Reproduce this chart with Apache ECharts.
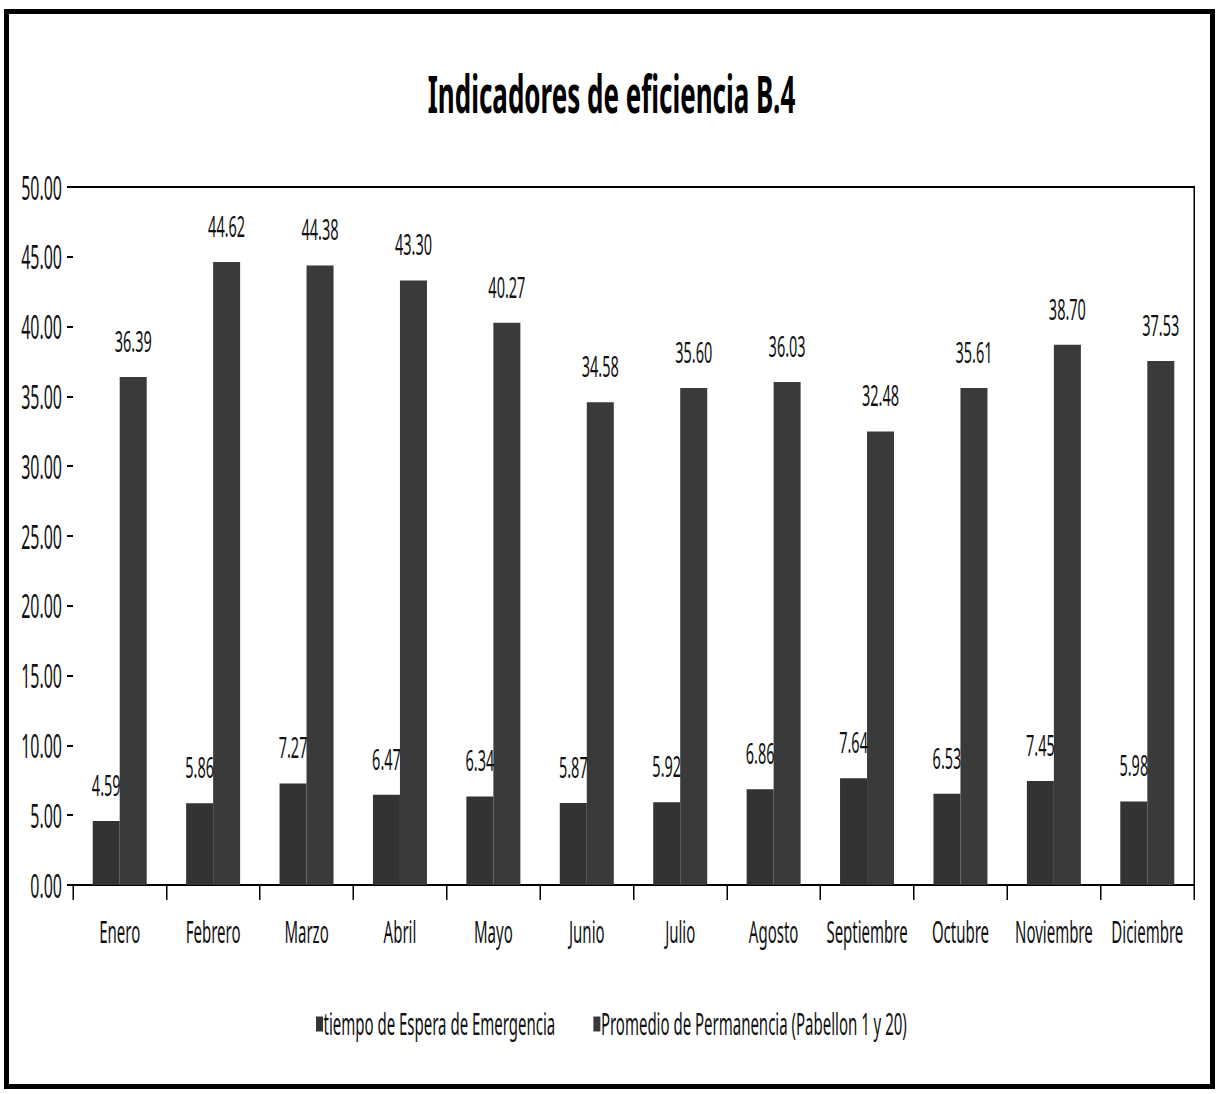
<!DOCTYPE html>
<html>
<head>
<meta charset="utf-8">
<title>Indicadores de eficiencia B.4</title>
<script src="https://cdn.jsdelivr.net/npm/echarts@6/dist/echarts.min.js"></script>
<style>
  html, body { margin: 0; padding: 0; background: #ffffff; overflow: hidden; width: 1223px; height: 1094px; }
  /* The chart is laid out twice as wide and squeezed horizontally,
     which gives the tall, condensed lettering of the original sheet. */
  #chart { position: absolute; left: 0; top: 0; width: 2446px; height: 1094px;
           transform-origin: 0 0; transform: scaleX(0.5); }
  #frame { position: absolute; left: 4px; top: 9px; width: 1201px; height: 1070px;
           border: 5px solid #000; pointer-events: none; }
</style>
</head>
<body>
<div id="chart"></div>
<div id="frame"></div>
<script>
// Meses del año
const categories = ['Enero', 'Febrero', 'Marzo', 'Abril', 'Mayo', 'Junio', 'Julio',
                    'Agosto', 'Septiembre', 'Octubre', 'Noviembre', 'Diciembre'];

// Tiempo de espera en emergencia
const tiempoEspera = [4.59, 5.86, 7.27, 6.47, 6.34, 5.87, 5.92, 6.86, 7.64, 6.53, 7.45, 5.98];

// Promedio de permanencia (Pabellón 1 y 20)
const promedioPermanencia = [36.39, 44.62, 44.38, 43.30, 40.27, 34.58, 35.60, 36.03, 32.48, 35.61, 38.70, 37.53];

const seriesNames = ['tiempo de Espera de Emergencia', 'Promedio de Permanencia (Pabellon 1 y 20)'];

// Eje de valores
const yMin = 0;
const yMax = 50;
const yStep = 5;

// Horizontal squeeze applied to the chart container (see CSS)
const SX = 0.5;
const X = v => v / SX;

const FONT = '"Noto Sans", "Open Sans", "DejaVu Sans", sans-serif';

const chart = echarts.init(document.getElementById('chart'), null, { renderer: 'svg' });

const labelStyle = {
  show: true,
  position: 'top',
  distance: 22,
  color: '#111',
  fontFamily: FONT,
  fontSize: 29,
  formatter: p => p.value.toFixed(2)
};

chart.setOption({
  animation: false,
  backgroundColor: '#ffffff',
  title: {
    text: 'Indicadores de eficiencia B.4',
    left: 'center',
    top: 62,
    textStyle: { fontFamily: FONT, fontSize: 52, fontWeight: 'bold', color: '#000' }
  },
  legend: {
    top: 1004,
    left: 'center',
    itemWidth: X(7),
    itemHeight: 15,
    itemGap: X(38),
    icon: 'rect',
    textStyle: { fontFamily: FONT, fontSize: 30, color: '#111', padding: [0, 0, 0, -4] },
    data: seriesNames
  },
  grid: { left: X(73), right: X(29), top: 187, bottom: 209, containLabel: false },
  xAxis: [
    {
      type: 'category',
      data: categories,
      axisLine: { show: true, lineStyle: { color: '#000', width: 2 } },
      axisTick: { show: true, length: 15, lineStyle: { color: '#000', width: X(1.5) } },
      axisLabel: { margin: 32, color: '#111', fontFamily: FONT, fontSize: 30, interval: 0 }
    },
    {
      type: 'category',
      position: 'top',
      data: categories,
      axisLine: { show: true, onZero: false, lineStyle: { color: '#000', width: 2 } },
      axisTick: { show: false },
      axisLabel: { show: false }
    }
  ],
  yAxis: [
    {
      type: 'value',
      min: yMin,
      max: yMax,
      interval: yStep,
      axisLine: { show: false },
      axisTick: { show: true, length: X(6), lineStyle: { color: '#000', width: 2 } },
      splitLine: { show: false },
      axisLabel: {
        margin: X(11),
        color: '#111',
        fontFamily: FONT,
        fontSize: 32,
        formatter: v => v.toFixed(2)
      }
    },
    {
      type: 'value',
      position: 'right',
      min: yMin,
      max: yMax,
      interval: yStep,
      axisLine: { show: true, onZero: false, lineStyle: { color: '#000', width: X(1.5) } },
      axisTick: { show: false },
      axisLabel: { show: false },
      splitLine: { show: false }
    }
  ],
  series: [
    {
      name: seriesNames[0],
      type: 'bar',
      data: tiempoEspera,
      barWidth: X(27),
      barGap: '0%',
      itemStyle: { color: '#333333' },
      label: labelStyle
    },
    {
      name: seriesNames[1],
      type: 'bar',
      data: promedioPermanencia,
      barWidth: X(27),
      barGap: '0%',
      itemStyle: { color: '#3a3a3a' },
      label: labelStyle
    }
  ]
});
</script>
</body>
</html>
